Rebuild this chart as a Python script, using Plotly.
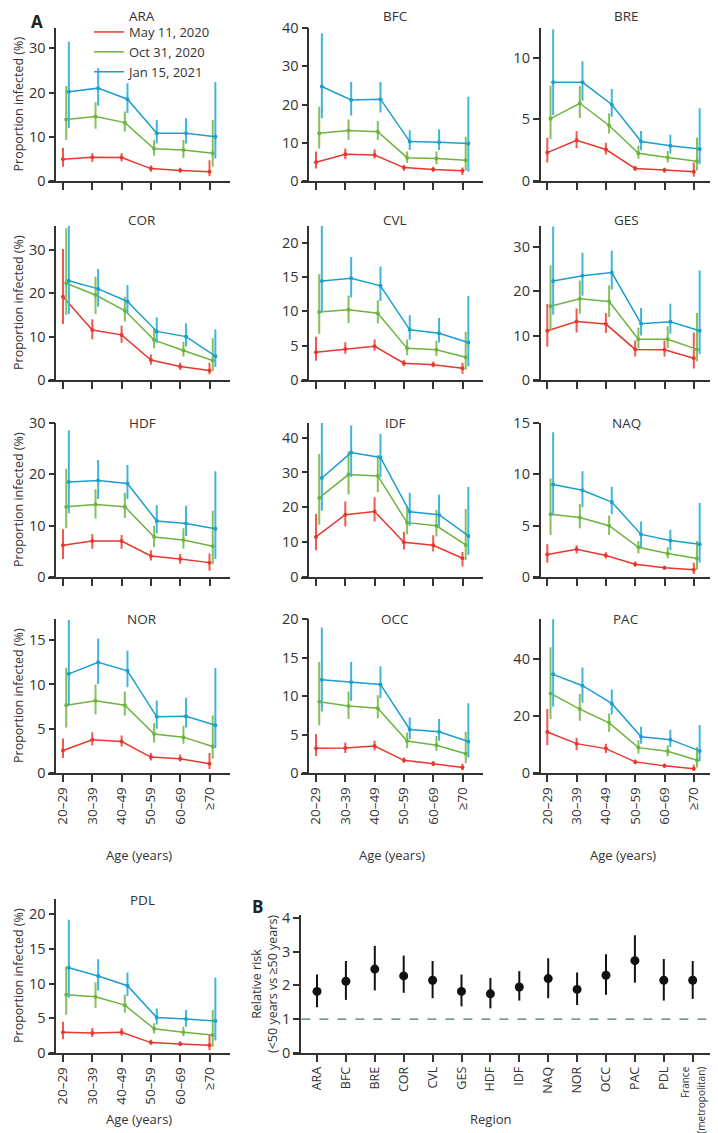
import plotly.graph_objects as go

# The page body adds an 8px margin, so the figure is drawn 8px smaller and
# reference pixel positions are shifted by that amount.
OFF = 8
W, H = 718 - OFF, 1133 - OFF

AGE = ["20–29", "30–39", "40–49", "50–59", "60–69", "≥70"]
SERIES = ["May 11, 2020", "Oct 31, 2020", "Jan 15, 2021"]

# estimates / lower / upper for [May, Oct, Jan] series
ARA_est = [[4.9, 5.35, 5.3, 2.8, 2.4, 2.1], [13.9, 14.6, 13.2, 7.3, 7.0, 6.3], [20.2, 21.0, 18.5, 10.8, 10.8, 10.0]]
ARA_lo = [[3.2, 4.3, 4.4, 2.1, 1.9, 1.1], [9.3, 11.8, 11.2, 5.7, 5.2, 3.2], [12.0, 17.0, 15.4, 8.5, 8.5, 5.1]]
ARA_hi = [[7.5, 6.3, 6.3, 3.5, 3.0, 4.7], [21.5, 17.8, 15.7, 9.3, 9.3, 13.8], [31.5, 25.5, 22.1, 13.8, 14.2, 22.4]]

BFC_est = [[4.9, 7.0, 6.8, 3.5, 3.0, 2.7], [12.5, 13.2, 12.9, 6.1, 5.9, 5.4], [24.7, 21.2, 21.4, 10.3, 10.1, 9.8]]
BFC_lo = [[3.3, 5.7, 5.9, 2.7, 2.4, 1.6], [8.5, 10.7, 10.7, 4.8, 4.4, 2.7], [16.4, 17.1, 17.9, 8.1, 8.1, 2.4]]
BFC_hi = [[7.7, 8.5, 8.3, 4.2, 3.7, 3.5], [19.4, 16.1, 15.7, 7.7, 7.7, 11.6], [38.6, 25.9, 25.9, 13.3, 13.5, 22.0]]

BRE_est = [[2.3, 3.3, 2.55, 1.02, 0.89, 0.75], [5.05, 6.3, 4.5, 2.25, 1.9, 1.6], [8.0, 8.0, 6.2, 3.2, 2.85, 2.6]]
BRE_lo = [[1.5, 2.65, 2.15, 0.81, 0.67, 0.35], [3.4, 5.1, 3.85, 1.8, 1.5, 0.85], [5.35, 6.5, 5.2, 2.5, 2.2, 1.35]]
BRE_hi = [[3.5, 4.05, 3.1, 1.24, 1.08, 1.5], [7.75, 7.7, 5.5, 2.85, 2.45, 3.5], [12.3, 9.7, 7.45, 4.05, 3.75, 5.9]]

COR_est = [[19.2, 11.5, 10.4, 4.6, 3.1, 2.2], [22.3, 19.6, 16.0, 9.2, 6.8, 4.5], [22.9, 21.0, 18.1, 11.2, 10.0, 5.5]]
COR_lo = [[12.9, 9.4, 8.6, 3.5, 2.3, 1.3], [15.0, 15.2, 13.5, 7.3, 5.4, 2.0], [15.2, 16.9, 15.2, 8.6, 7.7, 3.0]]
COR_hi = [[30.2, 14.0, 12.5, 5.9, 4.0, 4.0], [35.0, 23.8, 19.2, 11.9, 8.8, 9.6], [35.5, 25.6, 21.9, 14.4, 13.1, 11.7]]

CVL_est = [[4.05, 4.5, 4.9, 2.45, 2.2, 1.7], [9.9, 10.2, 9.7, 4.6, 4.4, 3.3], [14.4, 14.8, 13.7, 7.3, 6.8, 5.45]]
CVL_lo = [[2.8, 3.8, 4.25, 2.0, 1.85, 0.9], [6.7, 8.3, 8.2, 3.6, 3.5, 1.5], [9.8, 12.0, 11.5, 5.85, 5.45, 2.0]]
CVL_hi = [[6.3, 5.5, 5.9, 2.95, 2.7, 2.5], [15.4, 12.3, 11.6, 5.9, 5.7, 7.0], [22.4, 17.9, 16.5, 9.4, 9.0, 12.2]]

GES_est = [[11.1, 13.2, 12.6, 6.9, 6.8, 4.9], [16.6, 18.3, 17.7, 9.2, 9.2, 6.9], [22.3, 23.5, 24.2, 12.7, 13.1, 11.1]]
GES_lo = [[7.5, 10.7, 10.6, 5.3, 5.3, 2.6], [11.3, 14.9, 14.2, 7.2, 7.2, 4.2], [14.7, 19.0, 20.4, 10.0, 10.4, 5.8]]
GES_hi = [[17.1, 16.1, 15.1, 8.9, 8.9, 10.7], [25.8, 22.4, 21.3, 11.8, 12.1, 15.1], [34.6, 28.7, 29.1, 16.2, 17.2, 24.7]]

HDF_est = [[6.2, 7.0, 7.0, 4.1, 3.5, 2.8], [13.7, 14.1, 13.7, 7.8, 7.2, 6.0], [18.5, 18.8, 18.2, 10.9, 10.4, 9.4]]
HDF_lo = [[3.5, 5.5, 5.5, 3.2, 2.6, 1.2], [9.5, 11.4, 11.5, 5.8, 5.5, 2.5], [12.4, 15.2, 15.2, 8.5, 8.0, 3.5]]
HDF_hi = [[9.3, 8.4, 8.2, 5.2, 4.5, 4.6], [21.1, 17.1, 16.4, 10.0, 9.5, 12.9], [28.6, 22.8, 21.8, 14.0, 13.9, 20.6]]

IDF_est = [[11.5, 17.9, 18.8, 10.0, 9.1, 5.4], [22.7, 29.4, 29.0, 15.6, 14.7, 9.2], [28.4, 35.7, 34.3, 18.7, 17.9, 11.8]]
IDF_lo = [[7.7, 14.5, 15.9, 7.9, 7.3, 3.0], [15.0, 23.7, 24.3, 12.3, 11.6, 4.9], [19.0, 28.7, 28.7, 14.7, 14.2, 6.4]]
IDF_hi = [[18.1, 21.7, 22.9, 13.0, 12.0, 7.2], [35.3, 36.0, 35.0, 20.3, 19.3, 19.5], [44.4, 43.5, 41.1, 24.2, 23.6, 25.8]]

NAQ_est = [[2.2, 2.7, 2.1, 1.25, 0.9, 0.7], [6.1, 5.8, 5.0, 2.9, 2.3, 1.8], [9.0, 8.45, 7.3, 4.15, 3.55, 3.2]]
NAQ_lo = [[1.4, 2.3, 1.8, 1.0, 0.7, 0.3], [4.1, 4.75, 4.1, 2.3, 1.8, 0.7], [6.0, 6.8, 6.1, 2.9, 2.6, 1.4]]
NAQ_hi = [[3.2, 3.1, 2.4, 1.5, 1.1, 1.4], [9.6, 7.1, 6.0, 3.5, 2.9, 3.5], [14.1, 10.3, 8.8, 5.4, 4.6, 7.2]]

NOR_est = [[2.55, 3.75, 3.55, 1.8, 1.6, 1.05], [7.65, 8.15, 7.65, 4.4, 4.05, 3.0], [11.2, 12.5, 11.55, 6.35, 6.4, 5.4]]
NOR_lo = [[1.7, 3.1, 3.0, 1.4, 1.3, 0.45], [5.15, 6.65, 6.5, 3.45, 3.3, 1.6], [7.6, 10.05, 9.7, 5.0, 5.15, 2.8]]
NOR_hi = [[3.9, 4.6, 4.25, 2.25, 2.1, 2.25], [11.9, 10.0, 9.2, 5.65, 5.35, 6.5], [17.3, 15.2, 13.85, 8.2, 8.5, 11.85]]

OCC_est = [[3.2, 3.25, 3.5, 1.65, 1.2, 0.7], [9.25, 8.7, 8.4, 4.15, 3.6, 2.5], [12.1, 11.8, 11.5, 5.65, 5.35, 4.1]]
OCC_lo = [[2.2, 2.6, 2.95, 1.3, 0.9, 0.35], [6.2, 7.0, 7.1, 3.2, 2.85, 1.3], [8.0, 9.35, 9.7, 4.4, 4.2, 2.0]]
OCC_hi = [[5.05, 3.95, 4.2, 2.0, 1.55, 1.2], [14.4, 10.6, 10.1, 5.25, 4.8, 5.35], [18.9, 14.4, 13.85, 7.2, 7.0, 9.05]]

PAC_est = [[14.4, 10.3, 8.55, 3.9, 2.5, 1.5], [27.9, 22.4, 17.6, 8.9, 7.6, 4.45], [34.6, 30.6, 24.4, 12.7, 11.7, 7.75]]
PAC_lo = [[9.7, 8.0, 7.0, 3.05, 1.75, 0.7], [18.9, 18.3, 14.4, 6.8, 5.9, 1.9], [23.2, 24.6, 20.5, 10.3, 9.1, 4.1]]
PAC_hi = [[22.4, 12.4, 10.3, 4.7, 3.3, 2.9], [44.1, 27.7, 20.9, 11.5, 9.7, 9.1], [53.9, 37.0, 29.3, 16.2, 15.2, 16.8]]

PDL_est = [[3.0, 2.9, 3.0, 1.5, 1.3, 1.1], [8.4, 8.1, 6.9, 3.5, 3.0, 2.6], [12.3, 11.1, 9.7, 5.1, 4.9, 4.6]]
PDL_lo = [[2.0, 2.3, 2.5, 1.2, 1.0, 0.4], [5.5, 6.5, 5.8, 2.8, 2.4, 0.9], [8.0, 9.0, 8.2, 4.1, 3.8, 1.8]]
PDL_hi = [[4.5, 3.6, 3.6, 1.9, 1.7, 2.6], [12.5, 10.2, 8.4, 4.3, 3.8, 6.2], [19.2, 13.5, 11.6, 6.4, 6.2, 10.9]]

# Panel B
B_REGIONS = ["ARA", "BFC", "BRE", "COR", "CVL", "GES", "HDF", "IDF", "NAQ", "NOR", "OCC", "PAC", "PDL",
             "<span style='font-size:10px'>France<br>(metropolitan)</span>"]
B_RR = [1.82, 2.12, 2.48, 2.28, 2.15, 1.82, 1.75, 1.95, 2.2, 1.88, 2.3, 2.73, 2.15, 2.15]
B_LO = [1.35, 1.57, 1.85, 1.78, 1.62, 1.38, 1.32, 1.55, 1.62, 1.42, 1.72, 2.08, 1.55, 1.6]
B_HI = [2.32, 2.72, 3.17, 2.88, 2.72, 2.32, 2.22, 2.42, 2.8, 2.38, 2.92, 3.48, 2.78, 2.72]

COLORS = ["#e8372c", "#6db43f", "#1a9fcf"]
BAR_COLORS = ["#ee5a50", "#84c05b", "#45b4dd"]
OFFSETS = [0.0, 0.11, 0.2]
FONT = "Open Sans"
AX = "#333333"

panels = [
    ("ARA", ARA_est, ARA_lo, ARA_hi, 34.6, [0, 10, 20, 30], 0, 0),
    ("BFC", BFC_est, BFC_lo, BFC_hi, 40, [0, 10, 20, 30, 40], 1, 0),
    ("BRE", BRE_est, BRE_lo, BRE_hi, 12.4, [0, 5, 10], 2, 0),
    ("COR", COR_est, COR_lo, COR_hi, 35.5, [0, 10, 20, 30], 0, 1),
    ("CVL", CVL_est, CVL_lo, CVL_hi, 22.4, [0, 5, 10, 15, 20], 1, 1),
    ("GES", GES_est, GES_lo, GES_hi, 34.7, [0, 10, 20, 30], 2, 1),
    ("HDF", HDF_est, HDF_lo, HDF_hi, 30, [0, 10, 20, 30], 0, 2),
    ("IDF", IDF_est, IDF_lo, IDF_hi, 44.2, [0, 10, 20, 30, 40], 1, 2),
    ("NAQ", NAQ_est, NAQ_lo, NAQ_hi, 15, [0, 5, 10, 15], 2, 2),
    ("NOR", NOR_est, NOR_lo, NOR_hi, 17.4, [0, 5, 10, 15], 0, 3),
    ("OCC", OCC_est, OCC_lo, OCC_hi, 20, [0, 5, 10, 15, 20], 1, 3),
    ("PAC", PAC_est, PAC_lo, PAC_hi, 54, [0, 20, 40], 2, 3),
    ("PDL", PDL_est, PDL_lo, PDL_hi, 22.2, [0, 5, 10, 15, 20], 0, 4),
]

ROW_TOP = [28, 226, 423, 619, 899]
ROW_ZERO = [181, 380, 577, 773, 1053]
TITLE_Y = [16.5, 220, 423, 619, 900]
AGE_TITLE_Y = {3: 855, 4: 1119}
COL_T0 = [63, 316, 547.3]
SP = 29.3


def px(p):
    return (p - OFF) / W


def py(p):
    return 1 - (p - OFF) / H


fig = go.Figure()
layout = {}
annotations = []

for k, (name, est, lo, hi, ymax, ticks, col, row) in enumerate(panels, start=1):
    xa, ya = f"x{k}", f"y{k}"
    for s in range(3):
        xs = [i + OFFSETS[s] for i in range(len(AGE))]
        fig.add_trace(go.Scatter(
            x=xs, y=est[s], xaxis=xa, yaxis=ya, mode="lines+markers",
            line=dict(color=COLORS[s], width=1.5),
            marker=dict(size=4, color=COLORS[s]),
            error_y=dict(type="data", symmetric=False,
                         array=[h - e for h, e in zip(hi[s], est[s])],
                         arrayminus=[e - l for e, l in zip(est[s], lo[s])],
                         width=0, thickness=2, color=BAR_COLORS[s]),
            showlegend=False, hoverinfo="skip"))
    t0 = COL_T0[col]
    show_lab = row >= 3
    layout[f"xaxis{k}"] = dict(
        domain=[px(t0 - 0.5 * SP), px(t0 + 5.7 * SP)], range=[-0.5, 5.7],
        tickvals=list(range(len(AGE))), ticktext=AGE, showticklabels=show_lab,
        tickangle=-90, ticks="outside", ticklen=7, tickwidth=1.5, tickcolor=AX,
        showline=True, linecolor=AX, linewidth=1.5, showgrid=False, zeroline=False,
        anchor=ya, automargin=False, tickfont=dict(size=13.5, color=AX, family=FONT))
    layout[f"yaxis{k}"] = dict(
        domain=[py(ROW_ZERO[row]), py(ROW_TOP[row])], range=[0, ymax],
        tickvals=ticks, ticks="outside", ticklen=6, tickwidth=1.5, tickcolor=AX,
        showline=True, linecolor=AX, linewidth=1.5, showgrid=False, zeroline=False,
        anchor="free", position=px(t0 - 7.7), automargin=False,
        tickfont=dict(size=14.5, color=AX, family=FONT))
    annotations.append(dict(text=name, x=px(t0 + 2.7 * SP), y=py(TITLE_Y[row]), xref="paper", yref="paper",
                            showarrow=False, font=dict(size=13.5, color=AX, family=FONT),
                            xanchor="center", yanchor="middle"))
    if show_lab:
        annotations.append(dict(text="Age (years)", x=px(t0 + 2.6 * SP), y=py(AGE_TITLE_Y[row]),
                                xref="paper", yref="paper", showarrow=False,
                                font=dict(size=13, color=AX, family=FONT), xanchor="center", yanchor="middle"))
    if col == 0:
        annotations.append(dict(text="Proportion infected (%)", x=px(18), y=py((ROW_TOP[row] + ROW_ZERO[row]) / 2),
                                xref="paper", yref="paper", showarrow=False, textangle=-90,
                                font=dict(size=12.5, color=AX, family=FONT), xanchor="center", yanchor="middle"))

# legend entries
for s in range(3):
    fig.add_trace(go.Scatter(x=[None], y=[None], xaxis="x1", yaxis="y1", mode="lines",
                             line=dict(color=COLORS[s], width=1.5), name=SERIES[s], showlegend=True))

# Panel B
kb = len(panels) + 1
fig.add_trace(go.Scatter(
    x=list(range(len(B_REGIONS))), y=B_RR, xaxis=f"x{kb}", yaxis=f"y{kb}", mode="markers",
    marker=dict(size=9, color="#111111"),
    error_y=dict(type="data", symmetric=False,
                 array=[h - r for h, r in zip(B_HI, B_RR)],
                 arrayminus=[r - l for r, l in zip(B_RR, B_LO)],
                 width=0, thickness=2, color="#111111"),
    showlegend=False, hoverinfo="skip"))
B_T0, B_SP = 317, 28.9
layout[f"xaxis{kb}"] = dict(
    domain=[px(293), px(713)], range=[(293 - B_T0) / B_SP, (713 - B_T0) / B_SP],
    tickvals=list(range(len(B_REGIONS))), ticktext=B_REGIONS, tickangle=-90,
    ticks="outside", ticklen=7, tickwidth=1.5, tickcolor=AX,
    showline=True, linecolor=AX, linewidth=1.5, showgrid=False, zeroline=False,
    anchor=f"y{kb}", automargin=False, tickfont=dict(size=12.5, color=AX, family=FONT))
layout[f"yaxis{kb}"] = dict(
    domain=[py(1053), py(915)], range=[0, 4.08], tickvals=[0, 1, 2, 3, 4],
    ticks="outside", ticklen=6, tickwidth=1.5, tickcolor=AX,
    showline=True, linecolor=AX, linewidth=1.5, showgrid=False, zeroline=False,
    anchor="free", position=px(300), automargin=False, tickfont=dict(size=14.5, color=AX, family=FONT))
annotations.append(dict(text="Relative risk<br>(&lt;50 years vs ≥50 years)", x=px(264), y=py(984),
                        xref="paper", yref="paper", showarrow=False, textangle=-90,
                        font=dict(size=12.5, color=AX, family=FONT), xanchor="center", yanchor="middle"))
annotations.append(dict(text="Region", x=px(490), y=py(1119), xref="paper", yref="paper", showarrow=False,
                        font=dict(size=13, color=AX, family=FONT), xanchor="center", yanchor="middle"))

shapes = [dict(type="line", xref=f"x{kb} domain", yref=f"y{kb}", x0=0.02, x1=1, y0=1, y1=1,
               line=dict(color="#4f7373", width=1.2, dash="dash"))]

annotations.append(dict(text="<b>A</b>", x=px(37), y=1, xref="paper", yref="paper", showarrow=False,
                        font=dict(size=17, color="#222", family=FONT), xanchor="center", yanchor="top"))
annotations.append(dict(text="<b>B</b>", x=px(258), y=py(906), xref="paper", yref="paper", showarrow=False,
                        font=dict(size=17, color="#222", family=FONT), xanchor="center", yanchor="middle"))

fig.update_layout(
    template="none",
    width=W, height=H, margin=dict(l=0, r=0, t=0, b=0, autoexpand=False),
    paper_bgcolor="white", plot_bgcolor="white",
    font=dict(family=FONT, color=AX),
    annotations=annotations, shapes=shapes,
    legend=dict(x=px(89), y=py(17), xanchor="left", yanchor="top", bgcolor="rgba(0,0,0,0)",
                font=dict(size=13, color=AX, family=FONT), tracegroupgap=0, itemwidth=30),
    **layout)

fig.write_html("out.html")
